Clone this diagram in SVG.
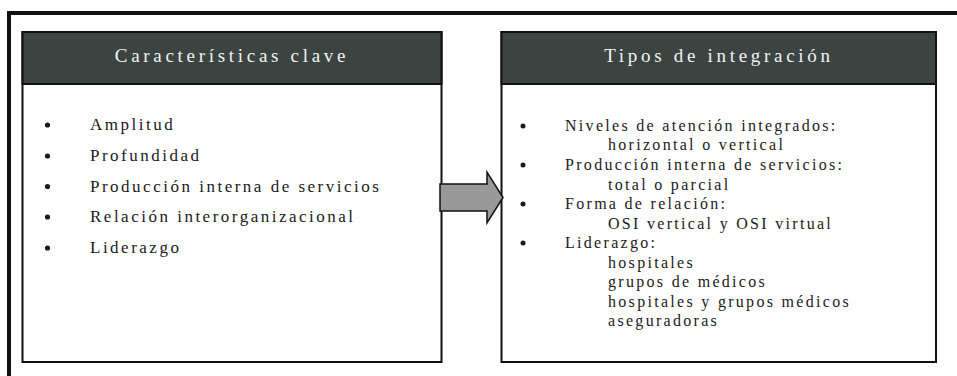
<svg xmlns="http://www.w3.org/2000/svg" width="957" height="376" viewBox="0 0 957 376">
<style>
.box{fill:#fff;stroke:#111;stroke-width:2}
.hdr{fill:#3c4442;stroke:#111;stroke-width:2}
.ht{font-family:"Liberation Serif","Times New Roman",serif;font-size:19px;letter-spacing:3.7px;fill:#f2f2f2;text-anchor:middle}
.lt{font-family:"Liberation Serif","Times New Roman",serif;font-size:17px;letter-spacing:2.5px;fill:#1a1a1a}
.rt{font-family:"Liberation Serif","Times New Roman",serif;font-size:16px;letter-spacing:2.3px;fill:#1a1a1a}
.bl{fill:#1a1a1a}
</style>
<rect width="957" height="376" fill="#fff"/>
<path d="M9,376 V13 H957" fill="none" stroke="#111" stroke-width="4"/>
<g id="caracteristicas">
<rect class="box" x="22.5" y="32" width="419" height="330"/>
<rect class="hdr" x="22.5" y="32" width="419" height="52"/>
<text class="ht" x="232" y="62">Características clave</text>
<circle class="bl" cx="47.5" cy="125" r="2.6"/><text class="lt" x="90" y="130">Amplitud</text>
<circle class="bl" cx="47.5" cy="156" r="2.6"/><text class="lt" x="90" y="161">Profundidad</text>
<circle class="bl" cx="47.5" cy="186.5" r="2.6"/><text class="lt" x="90" y="191.5">Producción interna de servicios</text>
<circle class="bl" cx="47.5" cy="217" r="2.6"/><text class="lt" x="90" y="222">Relación interorganizacional</text>
<circle class="bl" cx="47.5" cy="248" r="2.6"/><text class="lt" x="90" y="253">Liderazgo</text>
</g>
<g id="tipos">
<rect class="box" x="501.5" y="32" width="434.5" height="330"/>
<rect class="hdr" x="501.5" y="32" width="434.5" height="52"/>
<text class="ht" x="719" y="62">Tipos de integración</text>
<circle class="bl" cx="523" cy="126" r="2.5"/><text class="rt" x="565" y="131">Niveles de atención integrados:</text>
<text class="rt" x="608" y="150">horizontal o vertical</text>
<circle class="bl" cx="523" cy="165" r="2.5"/><text class="rt" x="565" y="170">Producción interna de servicios:</text>
<text class="rt" x="608" y="189.5">total o parcial</text>
<circle class="bl" cx="523" cy="204" r="2.5"/><text class="rt" x="565" y="209">Forma de relación:</text>
<text class="rt" x="608" y="228.5">OSI vertical y OSI virtual</text>
<circle class="bl" cx="523" cy="243" r="2.5"/><text class="rt" x="565" y="248">Liderazgo:</text>
<text class="rt" x="608" y="267.5">hospitales</text>
<text class="rt" x="608" y="287">grupos de médicos</text>
<text class="rt" x="608" y="306.5">hospitales y grupos médicos</text>
<text class="rt" x="608" y="326">aseguradoras</text>
</g>
<g id="connectors">
<polygon points="440,184 487,184 487,172 503,197.5 487,223 487,211 440,211" fill="#999" stroke="#111" stroke-width="1.5"/>
</g>
</svg>
